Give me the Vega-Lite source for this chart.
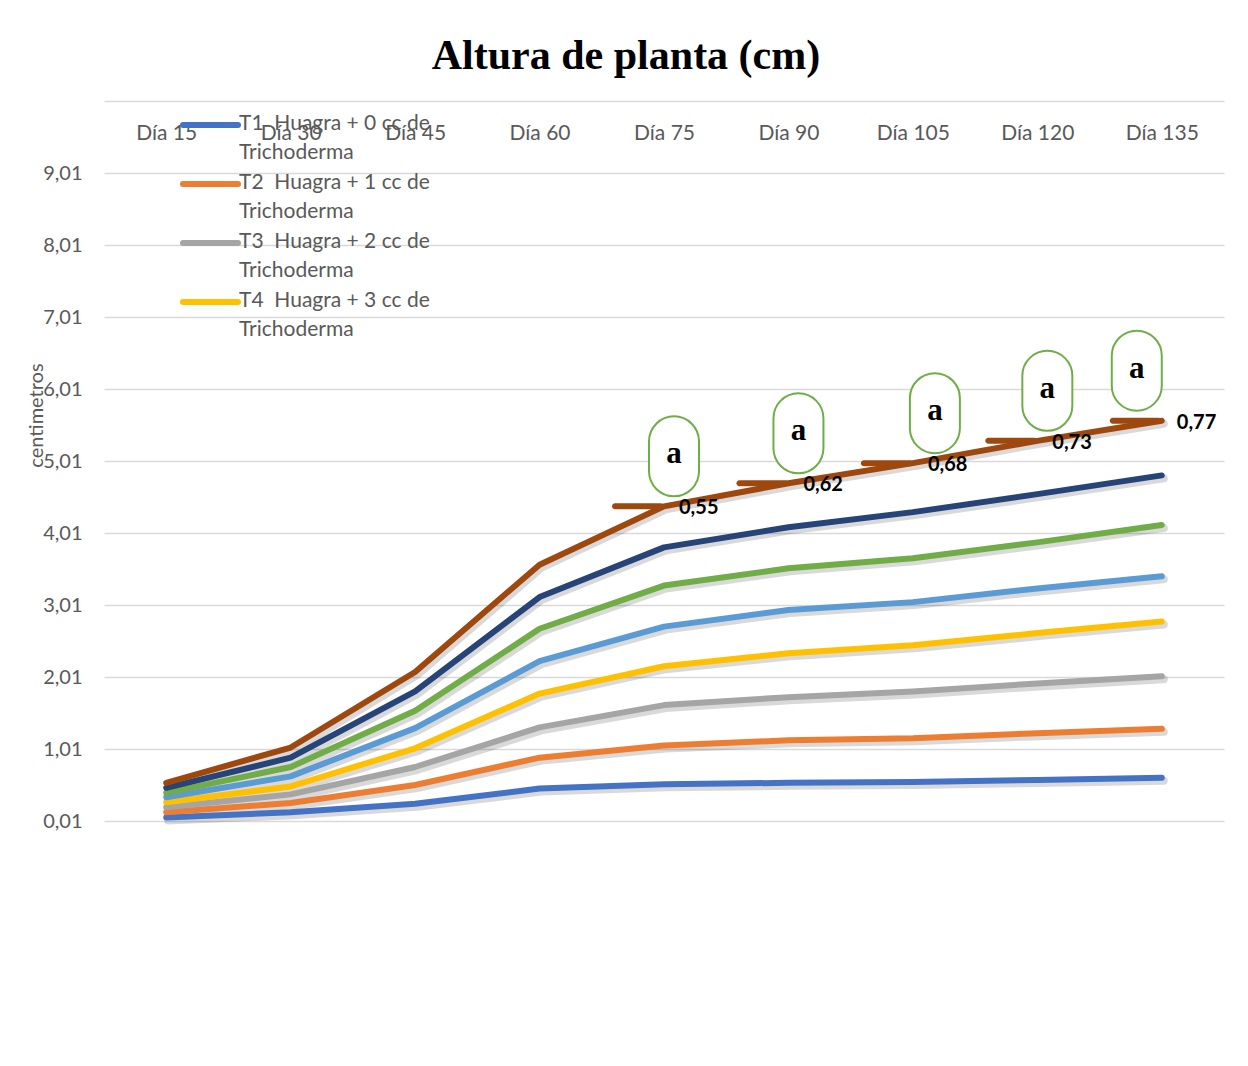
{
  "$schema": "https://vega.github.io/schema/vega-lite/v6.json",
  "width": 1120,
  "height": 720,
  "autosize": {"type": "none"},
  "padding": {"left": 104, "top": 101, "right": 24, "bottom": 245},
  "background": "white",
  "title": {"text": "Altura de planta (cm)", "font": "Liberation Serif", "fontSize": 42, "fontWeight": "bold", "color": "#000000", "anchor": "middle", "frame": "group", "dx": -38, "baseline": "alphabetic", "offset": -10},
  "config": {
    "view": {"stroke": null},
    "locale": {"number": {"decimal": ",", "thousands": ".", "grouping": [3], "currency": ["", " €"]}}
  },
  "data": {"values": [
    {"dia": "Día 15", "serie": "T1\u00a0 Huagra + 0 cc de Trichoderma", "altura": 0.06},
    {"dia": "Día 30", "serie": "T1\u00a0 Huagra + 0 cc de Trichoderma", "altura": 0.13},
    {"dia": "Día 45", "serie": "T1\u00a0 Huagra + 0 cc de Trichoderma", "altura": 0.25},
    {"dia": "Día 60", "serie": "T1\u00a0 Huagra + 0 cc de Trichoderma", "altura": 0.46},
    {"dia": "Día 75", "serie": "T1\u00a0 Huagra + 0 cc de Trichoderma", "altura": 0.52},
    {"dia": "Día 90", "serie": "T1\u00a0 Huagra + 0 cc de Trichoderma", "altura": 0.54},
    {"dia": "Día 105", "serie": "T1\u00a0 Huagra + 0 cc de Trichoderma", "altura": 0.55},
    {"dia": "Día 120", "serie": "T1\u00a0 Huagra + 0 cc de Trichoderma", "altura": 0.58},
    {"dia": "Día 135", "serie": "T1\u00a0 Huagra + 0 cc de Trichoderma", "altura": 0.61},
    {"dia": "Día 15", "serie": "T2\u00a0 Huagra + 1 cc de Trichoderma", "altura": 0.13},
    {"dia": "Día 30", "serie": "T2\u00a0 Huagra + 1 cc de Trichoderma", "altura": 0.26},
    {"dia": "Día 45", "serie": "T2\u00a0 Huagra + 1 cc de Trichoderma", "altura": 0.51},
    {"dia": "Día 60", "serie": "T2\u00a0 Huagra + 1 cc de Trichoderma", "altura": 0.89},
    {"dia": "Día 75", "serie": "T2\u00a0 Huagra + 1 cc de Trichoderma", "altura": 1.06},
    {"dia": "Día 90", "serie": "T2\u00a0 Huagra + 1 cc de Trichoderma", "altura": 1.13},
    {"dia": "Día 105", "serie": "T2\u00a0 Huagra + 1 cc de Trichoderma", "altura": 1.16},
    {"dia": "Día 120", "serie": "T2\u00a0 Huagra + 1 cc de Trichoderma", "altura": 1.23},
    {"dia": "Día 135", "serie": "T2\u00a0 Huagra + 1 cc de Trichoderma", "altura": 1.29},
    {"dia": "Día 15", "serie": "T3\u00a0 Huagra + 2 cc de Trichoderma", "altura": 0.20},
    {"dia": "Día 30", "serie": "T3\u00a0 Huagra + 2 cc de Trichoderma", "altura": 0.38},
    {"dia": "Día 45", "serie": "T3\u00a0 Huagra + 2 cc de Trichoderma", "altura": 0.76},
    {"dia": "Día 60", "serie": "T3\u00a0 Huagra + 2 cc de Trichoderma", "altura": 1.31},
    {"dia": "Día 75", "serie": "T3\u00a0 Huagra + 2 cc de Trichoderma", "altura": 1.62},
    {"dia": "Día 90", "serie": "T3\u00a0 Huagra + 2 cc de Trichoderma", "altura": 1.73},
    {"dia": "Día 105", "serie": "T3\u00a0 Huagra + 2 cc de Trichoderma", "altura": 1.81},
    {"dia": "Día 120", "serie": "T3\u00a0 Huagra + 2 cc de Trichoderma", "altura": 1.92},
    {"dia": "Día 135", "serie": "T3\u00a0 Huagra + 2 cc de Trichoderma", "altura": 2.02},
    {"dia": "Día 15", "serie": "T4\u00a0 Huagra + 3 cc de Trichoderma", "altura": 0.27},
    {"dia": "Día 30", "serie": "T4\u00a0 Huagra + 3 cc de Trichoderma", "altura": 0.49},
    {"dia": "Día 45", "serie": "T4\u00a0 Huagra + 3 cc de Trichoderma", "altura": 1.02},
    {"dia": "Día 60", "serie": "T4\u00a0 Huagra + 3 cc de Trichoderma", "altura": 1.78},
    {"dia": "Día 75", "serie": "T4\u00a0 Huagra + 3 cc de Trichoderma", "altura": 2.16},
    {"dia": "Día 90", "serie": "T4\u00a0 Huagra + 3 cc de Trichoderma", "altura": 2.34},
    {"dia": "Día 105", "serie": "T4\u00a0 Huagra + 3 cc de Trichoderma", "altura": 2.45},
    {"dia": "Día 120", "serie": "T4\u00a0 Huagra + 3 cc de Trichoderma", "altura": 2.62},
    {"dia": "Día 135", "serie": "T4\u00a0 Huagra + 3 cc de Trichoderma", "altura": 2.78},
    {"dia": "Día 15", "serie": "T5", "altura": 0.34},
    {"dia": "Día 30", "serie": "T5", "altura": 0.63},
    {"dia": "Día 45", "serie": "T5", "altura": 1.30},
    {"dia": "Día 60", "serie": "T5", "altura": 2.23},
    {"dia": "Día 75", "serie": "T5", "altura": 2.71},
    {"dia": "Día 90", "serie": "T5", "altura": 2.94},
    {"dia": "Día 105", "serie": "T5", "altura": 3.05},
    {"dia": "Día 120", "serie": "T5", "altura": 3.24},
    {"dia": "Día 135", "serie": "T5", "altura": 3.41},
    {"dia": "Día 15", "serie": "T6", "altura": 0.40},
    {"dia": "Día 30", "serie": "T6", "altura": 0.76},
    {"dia": "Día 45", "serie": "T6", "altura": 1.54},
    {"dia": "Día 60", "serie": "T6", "altura": 2.68},
    {"dia": "Día 75", "serie": "T6", "altura": 3.28},
    {"dia": "Día 90", "serie": "T6", "altura": 3.52},
    {"dia": "Día 105", "serie": "T6", "altura": 3.66},
    {"dia": "Día 120", "serie": "T6", "altura": 3.88},
    {"dia": "Día 135", "serie": "T6", "altura": 4.12},
    {"dia": "Día 15", "serie": "T7", "altura": 0.47},
    {"dia": "Día 30", "serie": "T7", "altura": 0.89},
    {"dia": "Día 45", "serie": "T7", "altura": 1.81},
    {"dia": "Día 60", "serie": "T7", "altura": 3.12},
    {"dia": "Día 75", "serie": "T7", "altura": 3.81},
    {"dia": "Día 90", "serie": "T7", "altura": 4.09},
    {"dia": "Día 105", "serie": "T7", "altura": 4.30},
    {"dia": "Día 120", "serie": "T7", "altura": 4.55},
    {"dia": "Día 135", "serie": "T7", "altura": 4.81},
    {"dia": "Día 15", "serie": "T8", "altura": 0.54},
    {"dia": "Día 30", "serie": "T8", "altura": 1.03},
    {"dia": "Día 45", "serie": "T8", "altura": 2.08},
    {"dia": "Día 60", "serie": "T8", "altura": 3.57},
    {"dia": "Día 75", "serie": "T8", "altura": 4.38, "ee": 0.55, "letra": "a"},
    {"dia": "Día 90", "serie": "T8", "altura": 4.70, "ee": 0.62, "letra": "a"},
    {"dia": "Día 105", "serie": "T8", "altura": 4.98, "ee": 0.68, "letra": "a"},
    {"dia": "Día 120", "serie": "T8", "altura": 5.29, "ee": 0.73, "letra": "a"},
    {"dia": "Día 135", "serie": "T8", "altura": 5.57, "ee": 0.77, "letra": "a"}
  ]},
  "encoding": {
    "x": {
      "field": "dia", "type": "ordinal",
      "sort": ["Día 15", "Día 30", "Día 45", "Día 60", "Día 75", "Día 90", "Día 105", "Día 120", "Día 135"],
      "scale": {"type": "point", "padding": 0.5},
      "axis": {"orient": "bottom", "offset": -720, "title": null, "labelAngle": 0, "ticks": false, "domain": true, "domainColor": "#D9D9D9", "domainWidth": 1.5, "grid": false, "labelPadding": 21, "labelFont": "Lato", "labelFontSize": 21, "labelColor": "#595959", "labelOverlap": false}
    },
    "y": {
      "field": "altura", "type": "quantitative",
      "scale": {"domain": [0.01, 10.01], "nice": false, "zero": false},
      "axis": {"values": [0.01, 1.01, 2.01, 3.01, 4.01, 5.01, 6.01, 7.01, 8.01, 9.01], "format": ".2f", "labelExpr": "replace(format(datum.value, '.2f'), '.', ',')", "grid": true, "gridColor": "#D9D9D9", "gridWidth": 1.5, "domain": false, "ticks": false, "labelPadding": 22, "labelFont": "Lato", "labelFontSize": 20, "labelColor": "#595959", "title": "centimetros", "titleFont": "Lato", "titleFontSize": 20, "titleFontWeight": "normal", "titleColor": "#595959", "titleX": -62, "titleY": 314, "titleAngle": 270, "titleAlign": "center", "titleBaseline": "alphabetic"}
    }
  },
  "layer": [
    {
      "mark": {"type": "line", "color": "#000000", "opacity": 0.15, "strokeWidth": 8, "strokeCap": "round", "strokeJoin": "round", "xOffset": 2, "yOffset": 3},
      "encoding": {"detail": {"field": "serie"}}
    },
    {
      "mark": {"type": "line", "strokeWidth": 6, "strokeCap": "round", "strokeJoin": "round"},
      "encoding": {
        "color": {
          "field": "serie", "type": "nominal",
          "scale": {
            "domain": ["T1\u00a0 Huagra + 0 cc de Trichoderma", "T2\u00a0 Huagra + 1 cc de Trichoderma", "T3\u00a0 Huagra + 2 cc de Trichoderma", "T4\u00a0 Huagra + 3 cc de Trichoderma", "T5", "T6", "T7", "T8"],
            "range": ["#4472C4", "#ED7D31", "#A5A5A5", "#FFC000", "#5B9BD5", "#70AD47", "#264478", "#9E480E"]
          },
          "legend": {
            "values": ["T1\u00a0 Huagra + 0 cc de Trichoderma", "T2\u00a0 Huagra + 1 cc de Trichoderma", "T3\u00a0 Huagra + 2 cc de Trichoderma", "T4\u00a0 Huagra + 3 cc de Trichoderma"],
            "orient": "none", "legendX": 76, "legendY": 12, "title": null, "padding": 0, "rowPadding": 9,
            "symbolType": "stroke", "symbolSize": 3025, "symbolStrokeWidth": 6,
            "labelFont": "Lato", "labelFontSize": 21, "labelColor": "#595959", "labelLimit": 500, "labelOffset": -2, "labelBaseline": "top",
            "labelExpr": "[replace(datum.label, ' Trichoderma', ''), 'Trichoderma']",
            "encode": {
              "labels": {"update": {"lineHeight": {"value": 29}, "y": {"value": 12}, "dy": {"value": -12}}},
              "symbols": {"update": {"strokeCap": {"value": "round"}, "y": {"value": 12}}}
            }
          }
        }
      }
    },
    {
      "transform": [{"filter": "isValid(datum.ee)"}],
      "mark": {"type": "tick", "orient": "horizontal", "color": "#9E480E", "size": 52, "thickness": 6, "cornerRadius": 3, "xOffset": -26, "opacity": 1}
    },
    {
      "transform": [{"filter": "isValid(datum.ee)"}],
      "mark": {"type": "text", "align": "left", "baseline": "middle", "dx": 15, "dy": 2, "font": "Lato", "fontSize": 20, "fontWeight": "bold", "color": "#000000"},
      "encoding": {"text": {"field": "ee", "type": "quantitative", "format": ".2f"}}
    },
    {
      "transform": [{"filter": "isValid(datum.letra) && (datum.dia == 'Día 75' || datum.dia == 'Día 90' || datum.dia == 'Día 120')"}],
      "mark": {"type": "rect", "width": 50, "height": 80, "cornerRadius": 25, "fill": "#FFFFFF", "stroke": "#70AD47", "strokeWidth": 2, "xOffset": 10, "yOffset": -50}
    },
    {
      "transform": [{"filter": "isValid(datum.letra) && datum.dia == 'Día 105'"}],
      "mark": {"type": "rect", "width": 50, "height": 80, "cornerRadius": 25, "fill": "#FFFFFF", "stroke": "#70AD47", "strokeWidth": 2, "xOffset": 22, "yOffset": -50}
    },
    {
      "transform": [{"filter": "isValid(datum.letra) && datum.dia == 'Día 135'"}],
      "mark": {"type": "rect", "width": 50, "height": 80, "cornerRadius": 25, "fill": "#FFFFFF", "stroke": "#70AD47", "strokeWidth": 2, "xOffset": -25, "yOffset": -50}
    },
    {
      "transform": [{"filter": "isValid(datum.letra) && (datum.dia == 'Día 75' || datum.dia == 'Día 90' || datum.dia == 'Día 120')"}],
      "mark": {"type": "text", "align": "center", "baseline": "middle", "font": "Liberation Serif", "fontSize": 31, "fontWeight": "bold", "color": "#000000", "xOffset": 10, "yOffset": -52},
      "encoding": {"text": {"field": "letra"}}
    },
    {
      "transform": [{"filter": "isValid(datum.letra) && datum.dia == 'Día 105'"}],
      "mark": {"type": "text", "align": "center", "baseline": "middle", "font": "Liberation Serif", "fontSize": 31, "fontWeight": "bold", "color": "#000000", "xOffset": 22, "yOffset": -52},
      "encoding": {"text": {"field": "letra"}}
    },
    {
      "transform": [{"filter": "isValid(datum.letra) && datum.dia == 'Día 135'"}],
      "mark": {"type": "text", "align": "center", "baseline": "middle", "font": "Liberation Serif", "fontSize": 31, "fontWeight": "bold", "color": "#000000", "xOffset": -25, "yOffset": -52},
      "encoding": {"text": {"field": "letra"}}
    }
  ]
}
